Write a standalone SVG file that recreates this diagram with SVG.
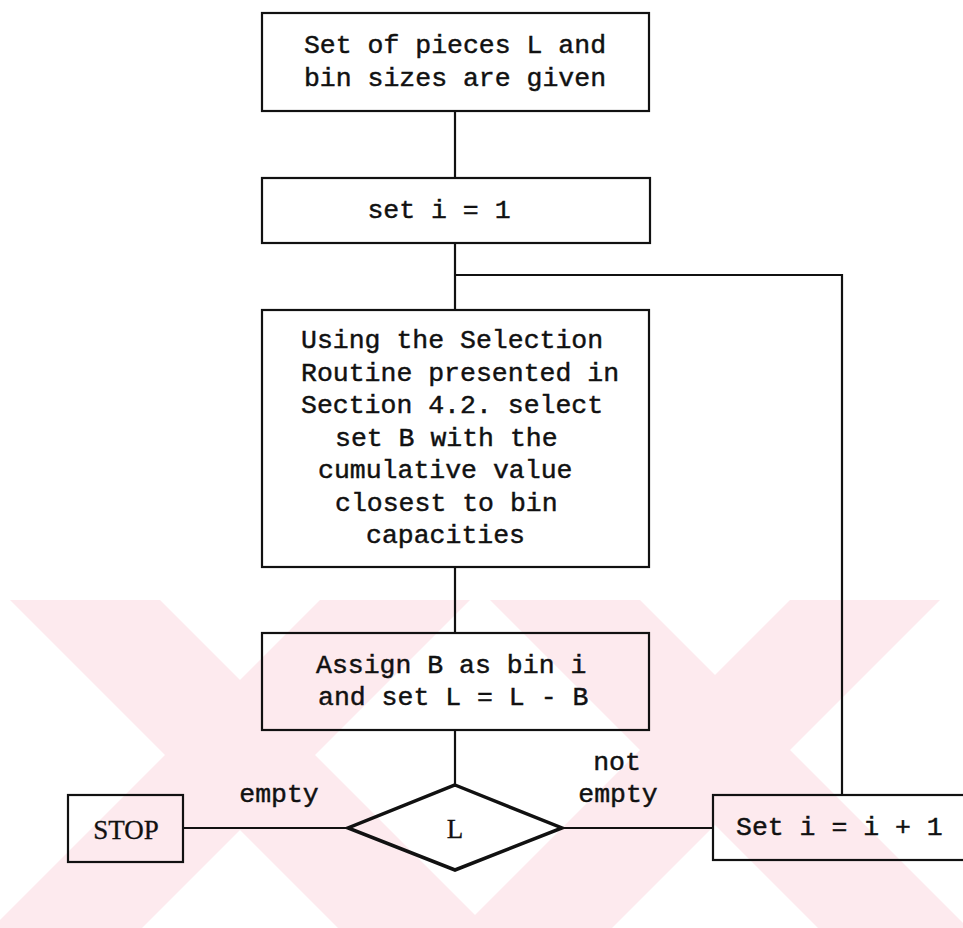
<svg xmlns="http://www.w3.org/2000/svg" width="963" height="928" viewBox="0 0 963 928">
<style>
.box{fill:none;stroke:#111;stroke-width:2.2}
.dia{fill:none;stroke:#111;stroke-width:3.5;stroke-linejoin:miter}
.ln{stroke:#111;stroke-width:2.2;fill:none}
.t{font-family:"Liberation Mono","DejaVu Sans Mono",monospace;font-size:26.5px;fill:#111;stroke:#111;stroke-width:0.45}
.c{text-anchor:middle}
.s{font-family:"Liberation Serif","Times New Roman",serif;font-size:27px;fill:#111;stroke:#111;stroke-width:0.3}
.wm{fill:#fdeaee}
</style>
<rect width="963" height="928" fill="#fff"/>
<g id="watermark">
<polygon class="wm" points="10,600 160,600 488,928 338,928"/>
<polygon class="wm" points="320,600 470,600 142,928 0,928 0,920"/>
<polygon class="wm" points="490,600 640,600 963,923 963,928 818,928"/>
<polygon class="wm" points="790,600 940,600 612,928 462,928"/>
</g>
<g id="connectors">
<line class="ln" x1="455" y1="111" x2="455" y2="178"/>
<line class="ln" x1="455" y1="243" x2="455" y2="310"/>
<polyline class="ln" points="455,275 842,275 842,795"/>
<line class="ln" x1="455" y1="567" x2="455" y2="633"/>
<line class="ln" x1="455" y1="730" x2="455" y2="785"/>
<line class="ln" x1="348" y1="828" x2="183" y2="828"/>
<line class="ln" x1="562" y1="828" x2="713" y2="828"/>
<text class="t c" x="279" y="802">empty</text>
<text class="t c" x="617" y="770">not</text>
<text class="t c" x="618" y="802">empty</text>
</g>
<g id="start">
<rect class="box" x="262" y="13" width="387" height="98"/>
<text class="t c" x="455" y="53">Set of pieces L and</text>
<text class="t c" x="455" y="86">bin sizes are given</text>
</g>
<g id="init">
<rect class="box" x="262" y="178" width="388" height="65"/>
<text class="t c" x="439" y="218">set i = 1</text>
</g>
<g id="select">
<rect class="box" x="262" y="310" width="387" height="257"/>
<text class="t" x="301" y="348">Using the Selection</text>
<text class="t" x="301" y="381">Routine presented in</text>
<text class="t" x="301" y="413">Section 4.2. select</text>
<text class="t" x="335" y="446">set B with the</text>
<text class="t" x="318" y="478">cumulative value</text>
<text class="t" x="335" y="511">closest to bin</text>
<text class="t" x="366" y="543">capacities</text>
</g>
<g id="assign">
<rect class="box" x="262" y="633" width="387" height="97"/>
<text class="t" x="316" y="673">Assign B as bin i</text>
<text class="t" x="318" y="705">and set L = L - B</text>
</g>
<g id="decision">
<polygon class="dia" points="455,785 562,828 455,870 348,828"/>
<text class="s c" x="455" y="838">L</text>
</g>
<g id="stop">
<rect class="box" x="68" y="795" width="115" height="67"/>
<text class="s c" x="126" y="839">STOP</text>
</g>
<g id="increment">
<rect class="box" x="713" y="795" width="260" height="65"/>
<text class="t" x="736" y="835">Set i = i + 1</text>
</g>
</svg>
